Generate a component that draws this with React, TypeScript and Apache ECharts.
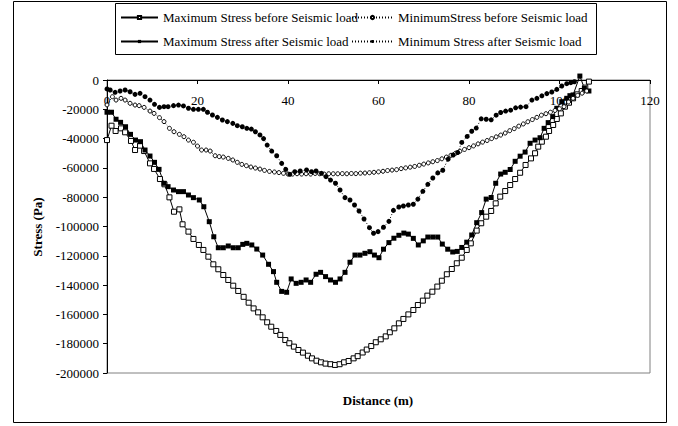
import React, { useEffect, useRef } from 'react';
import * as echarts from 'echarts';

const FONT = "'Liberation Serif', 'Times New Roman', serif";

const seriesNames = [
  'Maximum Stress before Seismic load',
  'Maximum Stress after Seismic load',
  'MinimumStress before Seismic load',
  'Minimum Stress after Seismic load',
];

// [distance (m), stress (Pa)]
const maxBefore: [number, number][] = [
  [0, -41000], [1, -31200], [1.9, -34800], [3.1, -33000], [4, -35700], [5.3, -41600], [6.2, -47800], [7.3, -44800],
  [8.2, -48500], [9.5, -56900], [10.4, -60700], [11.7, -67600], [12.7, -71200], [13.8, -80100], [14.8, -89900],
  [16, -88300], [16.7, -98500], [18, -103500], [19.1, -108500], [20.3, -112600], [21.3, -116000], [22.4, -120600],
  [23.5, -125800], [24.6, -129200], [25.7, -133100], [26.8, -136500], [27.9, -140400], [29, -144000], [30.2, -148000],
  [31.3, -152000], [32.4, -155900], [33.4, -158600], [34.4, -162000], [35.4, -165400], [36.3, -168400], [37.4, -171300],
  [38.3, -174000], [39.4, -177500], [40.3, -179700], [41.3, -182000], [42.3, -184300], [43.3, -186100], [44.4, -188200],
  [45.3, -190000], [46.3, -191600], [47.3, -192700], [48.3, -193600], [49.4, -194000], [50.4, -194500], [51.4, -194000],
  [52.4, -192700], [53.4, -191800], [54.5, -190000], [55.4, -188500], [56.5, -186000], [57.4, -184000], [58.4, -181600],
  [59.4, -179000], [60.5, -177000], [61.6, -175000], [62.5, -172200], [63.5, -169500], [64.5, -166100], [65.5, -163100],
  [66.6, -160000], [67.7, -157000], [68.7, -153600], [69.8, -150600], [70.8, -147200], [71.9, -144500], [73, -141000],
  [74, -137000], [75.1, -132600], [76.2, -129000], [77.3, -125100], [78.4, -121300], [79.5, -116000], [80.4, -111500],
  [81.7, -102800], [82.7, -97800], [83.8, -93300], [84.9, -89400], [85.9, -84200], [86.9, -79600], [88, -75800],
  [89.1, -71700], [90.2, -67600], [91.3, -63300], [92.5, -58000], [93.7, -53500], [94.6, -50000], [95.3, -45500],
  [96.1, -42100], [97, -38700], [97.7, -34800], [98.6, -30700], [99.4, -26600], [100.3, -22800], [101.2, -18200],
  [102.1, -15500], [103, -12500], [103.9, -9800], [104.9, -7500], [105.7, -5200], [106.5, -1100],
];

const maxAfter: [number, number][] = [
  [0, -22000], [1, -22000], [2, -26800], [3, -28900], [4.1, -31900], [5.2, -37100], [6.3, -41000], [7.4, -42100],
  [8.4, -47800], [9.5, -51900], [10.5, -56200], [11.5, -61000], [12.6, -70500], [13.5, -72800], [14.7, -75100],
  [15.8, -76200], [16.9, -76200], [18, -78500], [19.1, -80300], [20.4, -81900], [21.4, -86500], [22.6, -96700],
  [23.6, -107000], [24.6, -114500], [25.7, -114500], [26.8, -113300], [27.9, -114500], [29, -114500], [30, -112200],
  [30.9, -111500], [32, -112600], [33.1, -115400], [34.4, -119500], [35.7, -125800], [36.8, -130800], [37.5, -138100],
  [38.6, -144300], [39.7, -144900], [40.7, -135800], [41.8, -138800], [42.9, -138100], [44, -136500], [45, -138100],
  [46.2, -132600], [47.2, -131300], [48.3, -134200], [49.4, -136500], [50.5, -138100], [51.5, -135800], [52.6, -131300],
  [53.7, -124400], [54.8, -119500], [55.9, -119500], [57, -118300], [58.1, -117200], [59.1, -119500], [60.1, -121300],
  [61.1, -115500], [62.3, -111000], [63.4, -108000], [64.5, -106000], [65.6, -104500], [66.6, -105200], [67.7, -108100],
  [68.8, -112600], [69.9, -109800], [70.9, -107200], [72, -107200], [73.1, -107200], [74.1, -112000], [75.3, -115500],
  [76.4, -117400], [77.4, -117000], [78.4, -114300], [79.5, -110700], [80.6, -105800], [81.7, -97400], [82.8, -90500],
  [83.8, -81300], [84.9, -80200], [85.9, -70500], [87, -64200], [88, -63000], [89.1, -61100], [90.2, -55500],
  [91.3, -52000], [92.4, -49200], [93.5, -43200], [94.6, -41000], [95.7, -39400], [96.6, -33000], [97.5, -29100],
  [98.5, -25000], [99.4, -19300], [100.5, -14800], [101.6, -12500], [102.3, -10700], [103, -10200], [104.5, 2700],
  [105.5, -5700], [106.5, -7500],
];

const minBefore: [number, number][] = [
  [0, -17000], [1.2, -11400], [2, -13700], [3.1, -12500], [4, -13700], [5.1, -15900], [6.2, -17100], [7.1, -17500],
  [8.2, -18700], [9.5, -21200], [10.4, -22800], [11.6, -25700], [12.6, -28400], [13.8, -33000], [14.8, -35300],
  [16, -37100], [17, -38700], [18, -41000], [19.1, -42500], [20, -45100], [20.9, -47800], [21.9, -47800], [22.8, -48500],
  [23.9, -51700], [24.8, -52300], [25.7, -52600], [26.8, -53500], [27.8, -54600], [28.8, -56200], [29.8, -57600],
  [30.8, -58500], [31.8, -59400], [32.8, -60100], [33.8, -60800], [34.8, -61700], [35.9, -62400], [37, -62800],
  [38, -63200], [39, -63700], [40, -64200], [41, -64200], [42, -64000], [43, -64200], [44, -64000], [45, -64200],
  [46, -63800], [47, -64000], [48, -64200], [49, -64000], [50, -64000], [51, -64000], [52, -63900], [53, -64000],
  [54, -63800], [55, -63900], [56, -63600], [57, -63500], [58, -63300], [59, -63000], [60, -62700], [61, -62300],
  [62, -61800], [63, -61500], [64, -61200], [65, -60500], [66, -60000], [67, -59500], [68, -59000], [69, -58200],
  [70, -57400], [71, -56600], [72, -55800], [73, -55000], [74, -53800], [75, -52600], [76, -51400], [77, -50000],
  [78, -48600], [79, -47400], [80, -46200], [81, -45000], [82, -43600], [83, -42400], [84, -41300], [85, -40000],
  [86, -38800], [87, -37600], [88, -36200], [89, -34600], [90, -33200], [91, -31500], [92, -30000], [93, -28500],
  [94, -27000], [95, -25500], [96, -24000], [97, -23000], [98, -22000], [99, -20800], [100, -19600], [101, -18200],
  [102, -15000], [103, -12500], [104, -10500], [105, -9000], [106, -7500],
];

const minAfter: [number, number][] = [
  [0, -6100], [0.7, -6800], [1.8, -8400], [2.9, -7500], [4, -6800], [5.1, -8000], [6.2, -9800], [7.3, -9100],
  [8.4, -11400], [9.5, -13700], [10.5, -16600], [11.6, -18700], [12.6, -18200], [13.5, -18200], [14.7, -17500],
  [15.8, -17100], [16.9, -17700], [18, -19300], [19.1, -20000], [20.2, -20000], [21.3, -20000], [22.2, -22000],
  [23.3, -23900], [24.4, -25500], [25.5, -27300], [26.6, -28400], [27.8, -29600], [28.8, -31200], [29.9, -31900],
  [30.9, -33000], [31.9, -33500], [32.8, -35300], [33.8, -37500], [34.6, -40000], [35.4, -44400], [36.4, -48500],
  [37.5, -51700], [38.6, -56900], [39.5, -61000], [40.4, -64400], [41.5, -62600], [42.7, -62100], [44.1, -61400],
  [45.2, -62600], [46.2, -62100], [47.4, -63700], [48.4, -66000], [49.4, -68300], [50.5, -70500], [51.5, -75100],
  [52.6, -80300], [53.7, -81900], [54.7, -85300], [55.7, -89400], [56.8, -94900], [58, -100800], [58.9, -104600],
  [59.9, -103500], [61.1, -100500], [62.3, -96500], [63.3, -89000], [64.5, -86700], [65.5, -86000], [66.6, -85300],
  [67.7, -84800], [68.7, -81300], [69.8, -76000], [70.9, -71200], [72, -66900], [73.1, -63400], [74.2, -61600],
  [75.4, -54000], [76.5, -51200], [77.5, -49500], [78.4, -42600], [79.6, -38500], [80.6, -35000], [81.6, -32800],
  [82.7, -26500], [83.8, -26800], [84.9, -27200], [86, -24000], [87, -22200], [88.1, -21200], [89.2, -20600],
  [90.3, -19000], [91.4, -18500], [92.6, -18200], [93.9, -13700], [95, -12500], [96.1, -10800], [97.2, -9300],
  [98.3, -8200], [99.4, -6400], [100.5, -4100], [101.6, -2500], [102.5, -1800], [103.3, -1200],
];

const xMin = 0;
const xMax = 120;
const xStep = 20;
const yMin = -200000;
const yMax = 0;
const yStep = 20000;

export default function App() {
  const ref = useRef<HTMLDivElement>(null);

  useEffect(() => {
    if (!ref.current) return;
    const chart = echarts.init(ref.current, undefined, { renderer: 'svg' });
    const textStyle = { fontFamily: FONT, fontSize: 13, color: '#000' };
    const legendCommon = {
      orient: 'vertical' as const,
      top: 11,
      padding: 0,
      itemHeight: 4,
      itemGap: 11,
      textStyle,
      selectedMode: false,
    };
    chart.setOption({
      animation: false,
      backgroundColor: '#fff',
      textStyle: { fontFamily: FONT },
      grid: {
        left: 107,
        right: 28,
        top: 80,
        bottom: 53,
        show: true,
        borderColor: '#808080',
        borderWidth: 1,
        backgroundColor: 'transparent',
      },
      legend: [
        { ...legendCommon, left: 120, itemWidth: 37, data: [seriesNames[0], seriesNames[1]] },
        { ...legendCommon, left: 351, itemWidth: 41, data: [seriesNames[2], seriesNames[3]] },
      ],
      xAxis: {
        type: 'value',
        position: 'top',
        min: xMin,
        max: xMax,
        interval: xStep,
        axisLine: { show: true, onZero: false, lineStyle: { color: '#000', width: 1 } },
        axisTick: { show: true, inside: true, length: 4, lineStyle: { color: '#000' } },
        axisLabel: { inside: true, margin: 14, ...textStyle, showMinLabel: true, showMaxLabel: true },
        splitLine: { show: false },
      },
      yAxis: {
        type: 'value',
        min: yMin,
        max: yMax,
        interval: yStep,
        axisLine: { show: true, onZero: false, lineStyle: { color: '#000', width: 1 } },
        axisTick: { show: true, inside: false, length: 4, lineStyle: { color: '#000' } },
        axisLabel: { margin: 8, ...textStyle, formatter: (v: number) => String(v) },
        splitLine: { show: false },
      },
      graphic: [
        {
          type: 'rect',
          shape: { x: 13.5, y: 1.5, width: 653, height: 421 },
          style: { fill: 'none', stroke: '#000', lineWidth: 1 },
          silent: true,
        },
        {
          type: 'rect',
          shape: { x: 115.5, y: 3.5, width: 481, height: 51 },
          style: { fill: 'none', stroke: '#000', lineWidth: 1 },
          silent: true,
        },
        {
          type: 'text',
          x: 37,
          y: 227,
          rotation: Math.PI / 2,
          style: {
            text: 'Stress (Pa)',
            fontFamily: FONT,
            fontSize: 13,
            fontWeight: 'bold',
            fill: '#000',
            align: 'center',
            verticalAlign: 'middle',
          },
        },
        {
          type: 'text',
          x: 378,
          y: 400,
          style: {
            text: 'Distance (m)',
            fontFamily: FONT,
            fontSize: 13,
            fontWeight: 'bold',
            fill: '#000',
            align: 'center',
            verticalAlign: 'middle',
          },
        },
      ],
      series: [
        {
          name: seriesNames[0],
          type: 'line',
          data: maxBefore,
          symbol: 'rect',
          symbolSize: 5,
          showAllSymbol: true,
          itemStyle: { color: '#fff', borderColor: '#000', borderWidth: 1 },
          lineStyle: { color: '#000', width: 1 },
          emphasis: { disabled: true },
        },
        {
          name: seriesNames[1],
          type: 'line',
          data: maxAfter,
          symbol: 'rect',
          symbolSize: 5,
          showAllSymbol: true,
          clip: false,
          itemStyle: { color: '#000', borderColor: '#000', borderWidth: 0 },
          lineStyle: { color: '#000', width: 1 },
          emphasis: { disabled: true },
        },
        {
          name: seriesNames[2],
          type: 'line',
          data: minBefore,
          symbol: 'circle',
          symbolSize: 4,
          showAllSymbol: true,
          itemStyle: { color: '#fff', borderColor: '#000', borderWidth: 1 },
          lineStyle: { color: '#000', width: 1, type: [1, 2] },
          emphasis: { disabled: true },
        },
        {
          name: seriesNames[3],
          type: 'line',
          data: minAfter,
          symbol: 'circle',
          symbolSize: 5,
          showAllSymbol: true,
          itemStyle: { color: '#000', borderColor: '#000', borderWidth: 0 },
          lineStyle: { color: '#000', width: 1, type: [1, 2] },
          emphasis: { disabled: true },
        },
      ],
    });
    return () => chart.dispose();
  }, []);

  return (
    <div
      ref={ref}
      style={{ position: 'absolute', left: 0, top: 0, width: 678, height: 426, background: '#fff' }}
    />
  );
}
